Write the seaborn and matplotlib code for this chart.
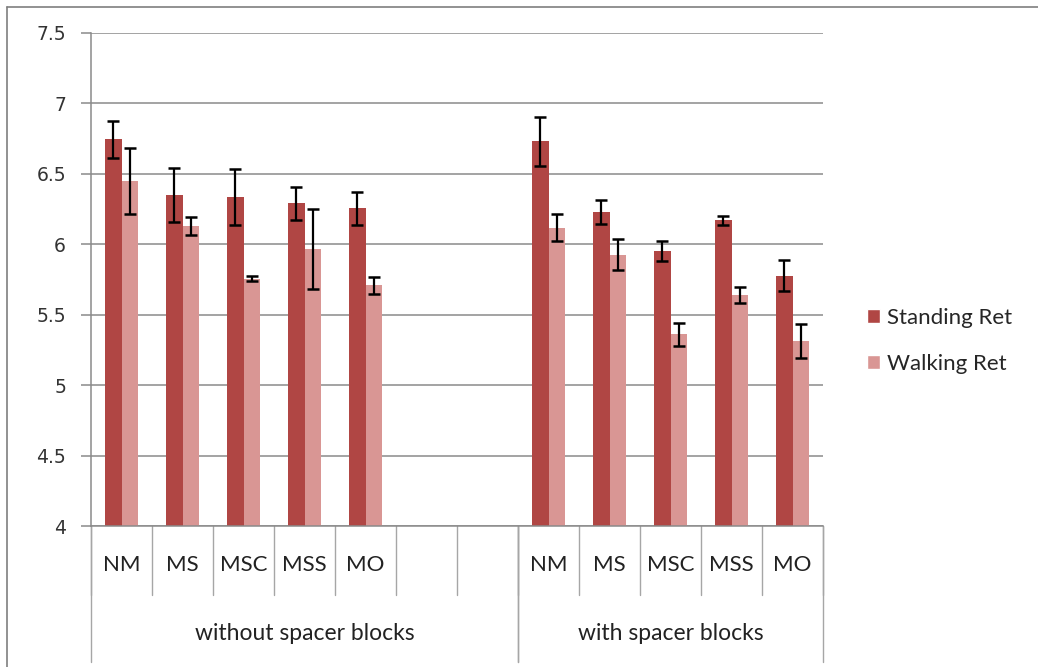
import numpy as np
import pandas as pd
import matplotlib
matplotlib.use("Agg")
import matplotlib.pyplot as plt
from matplotlib.patches import Patch
from matplotlib.lines import Line2D
import seaborn as sns

# ---- data -------------------------------------------------------------
conditions = ["NM", "MS", "MSC", "MSS", "MO"]
groups = ["without spacer blocks", "with spacer blocks"]
series = ["Standing Ret", "Walking Ret"]

standing_without = [6.745, 6.35, 6.335, 6.29, 6.255]
standing_without_err = [0.13, 0.19, 0.20, 0.115, 0.115]
walking_without = [6.45, 6.13, 5.757, 5.965, 5.71]
walking_without_err = [0.235, 0.065, 0.015, 0.285, 0.06]

standing_with = [6.73, 6.227, 5.953, 6.17, 5.776]
standing_with_err = [0.175, 0.085, 0.07, 0.03, 0.11]
walking_with = [6.118, 5.925, 5.36, 5.64, 5.315]
walking_with_err = [0.095, 0.11, 0.08, 0.055, 0.12]

yticks = [4, 4.5, 5, 5.5, 6, 6.5, 7, 7.5]

# two empty slots after the first group
n_blank = 2

# ---- long-form table ----------------------------------------------------
slot_order = [f"{groups[0]}|{c}" for c in conditions]
slot_order += [f"{groups[0]}|blank{i}" for i in range(n_blank)]
slot_order += [f"{groups[1]}|{c}" for c in conditions]

rows = []
for grp, s_vals, s_err, w_vals, w_err in [
    (groups[0], standing_without, standing_without_err, walking_without, walking_without_err),
    (groups[1], standing_with, standing_with_err, walking_with, walking_with_err),
]:
    for c, sv, se, wv, we in zip(conditions, s_vals, s_err, w_vals, w_err):
        rows.append({"slot": f"{grp}|{c}", "series": series[0], "value": sv, "err": se})
        rows.append({"slot": f"{grp}|{c}", "series": series[1], "value": wv, "err": we})
df = pd.DataFrame(rows)

# ---- style --------------------------------------------------------------
sns.set_style("white")
plt.rcParams["font.family"] = ["DejaVu Sans"]
label_font = "Lato"

dark_red = "#B04644"
light_red = "#D99694"
grid_gray = "#8A8A8A"
div_gray = "#A6A6A6"

W, H = 1038, 667
fig = plt.figure(figsize=(W / 100, H / 100), dpi=100)
ax_l, ax_r, ax_t, ax_b = 91, 823, 33, 526
ax = fig.add_axes([ax_l / W, 1 - ax_b / H, (ax_r - ax_l) / W, (ax_b - ax_t) / H])

sns.barplot(
    data=df, x="slot", y="value", hue="series",
    order=slot_order, hue_order=series,
    palette=[dark_red, light_red], saturation=1,
    width=0.545, gap=0, errorbar=None, legend=False,
    linewidth=0, ax=ax,
)

# error bars placed on each drawn bar
for bar in list(ax.patches):
    h = bar.get_height()
    if not np.isfinite(h) or h == 0:
        continue
    cx = bar.get_x() + bar.get_width() / 2
    idx = int(round(cx))
    ser = series[0] if cx < idx else series[1]
    row = df[(df["slot"] == slot_order[idx]) & (df["series"] == ser)].iloc[0]
    ax.errorbar(cx, row["value"], yerr=row["err"], fmt="none",
                ecolor="black", elinewidth=1.6, capsize=4.5, capthick=1.8,
                zorder=5)

# ---- axes --------------------------------------------------------------
ax.set_xlim(-0.5, len(slot_order) - 0.5)
ax.set_ylim(yticks[0], yticks[-1])
ax.set_yticks(yticks)
ax.set_yticklabels([f"{t:g}" for t in yticks], fontsize=13.5, color="#333333")
ax.set_xticks([])
ax.set_xlabel("")
ax.set_ylabel("")
ax.tick_params(axis="y", direction="out", length=7, width=1.1,
               color=grid_gray, pad=11, left=True)
ax.yaxis.grid(True, color=grid_gray, linewidth=1.1)
ax.set_axisbelow(True)
for side in ["top", "right"]:
    ax.spines[side].set_visible(False)
for side in ["left", "bottom"]:
    ax.spines[side].set_color(grid_gray)
    ax.spines[side].set_linewidth(1.1)

# ---- two-level category axis -------------------------------------------
ax_h = ax_b - ax_t
trans = ax.get_xaxis_transform()
cat_y = -39 / ax_h
grp_y = -107 / ax_h
minor_bottom = -69 / ax_h
major_bottom = -136 / ax_h

for i, slot in enumerate(slot_order):
    grp, cond = slot.split("|")
    if cond in conditions:
        ax.text(i, cat_y, cond, transform=trans, ha="center", va="center",
                fontsize=16, family=label_font, color="#222222")

for k in range(len(slot_order) + 1):
    x = k - 0.5
    ax.add_line(Line2D([x, x], [0, minor_bottom], transform=trans,
                       color=div_gray, linewidth=1.0, clip_on=False))

group_sizes = [len(conditions) + n_blank, len(conditions)]
start = 0
for grp, size in zip(groups, group_sizes):
    for x in (start - 0.5, start + size - 0.5):
        ax.add_line(Line2D([x, x], [0, major_bottom], transform=trans,
                           color=div_gray, linewidth=1.0, clip_on=False))
    ax.text(start + (size - 1) / 2, grp_y, grp, transform=trans,
            ha="center", va="center", fontsize=16.5, family=label_font,
            color="#222222")
    start += size

# ---- legend -------------------------------------------------------------
handles = [Patch(facecolor=dark_red, label=series[0]),
           Patch(facecolor=light_red, label=series[1])]
fig.legend(handles=handles, loc="center left",
           bbox_to_anchor=(867 / W, 1 - 341 / H), frameon=False,
           prop={"family": label_font, "size": 16},
           handlelength=0.6, handleheight=0.6, handletextpad=0.3,
           labelspacing=1.15, borderaxespad=0, borderpad=0)

# ---- chart frame --------------------------------------------------------
fig.add_artist(Line2D([7 / W, 1], [1 - 7 / H, 1 - 7 / H], transform=fig.transFigure,
                      color="#7F7F7F", linewidth=1.2))
fig.add_artist(Line2D([7 / W, 7 / W], [0, 1 - 7 / H], transform=fig.transFigure,
                      color="#7F7F7F", linewidth=1.2))

fig.savefig("out.png", dpi=100, facecolor="white")
